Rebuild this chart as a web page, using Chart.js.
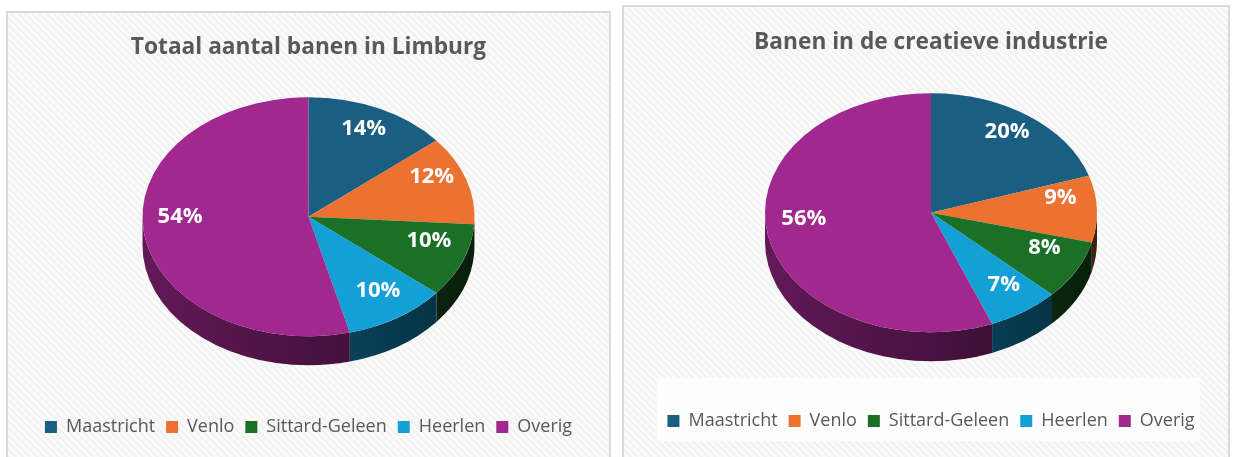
<!DOCTYPE html>
<html lang="nl">

<head>
    <meta charset="UTF-8">
    <title>Banen in Limburg</title>
    <script src="https://cdn.jsdelivr.net/npm/chart.js"></script>
    <style>
        body {
            margin: 0;
            background: #fff;
            width: 1233px;
            height: 457px;
            overflow: hidden;
            position: relative;
            font-family: "Open Sans", sans-serif;
        }

        .panel {
            position: absolute;
            box-sizing: border-box;
            border: 2px solid #dadada;
            background: repeating-linear-gradient(45deg, #f3f3f3 0px, #f3f3f3 2.5px, #fbfbfb 2.5px, #fbfbfb 5px);
        }

        #panel1 { left: 6px; top: 11px; width: 605px; height: 470px; }
        #panel2 { left: 622px; top: 5px; width: 608px; height: 470px; }

        #legendBox {
            position: absolute;
            left: 657px; top: 378px; width: 543px; height: 63px;
            background: #fdfdfd;
        }

        .chartBox { position: absolute; }
        #box1 { left: 8px; top: 13px; width: 601px; height: 444px; }
        #box2 { left: 629px; top: 7px; width: 604px; height: 450px; }
    </style>
</head>

<body>
    <div class="panel" id="panel1"></div>
    <div class="panel" id="panel2"></div>
    <div id="legendBox"></div>
    <div class="chartBox" id="box1"><canvas id="chart1"></canvas></div>
    <div class="chartBox" id="box2"><canvas id="chart2"></canvas></div>

    <script>
        // data
        const categories = ["Maastricht", "Venlo", "Sittard-Geleen", "Heerlen", "Overig"];
        const totaalBanen = [14, 12, 10, 10, 54];
        const creatieveBanen = [20, 9, 8, 7, 56];
        const sliceColors = ["#1a5e82", "#ec7231", "#1b6f27", "#13a0d7", "#a0288f"];

        const TILT = 0.72;   // vertical squash of the pie
        const DEPTH = 29;    // thickness of the pie side in px

        function shade(hex, f) {
            const n = parseInt(hex.slice(1), 16);
            const r = Math.round(((n >> 16) & 255) * f);
            const g = Math.round(((n >> 8) & 255) * f);
            const b = Math.round((n & 255) * f);
            return `rgb(${r},${g},${b})`;
        }

        // draws the pie flattened with a side, then the percentage labels
        const pie3d = {
            id: "pie3d",
            beforeDatasetsDraw(chart) {
                const meta = chart.getDatasetMeta(0);
                const first = meta.data[0];
                const cx = first.x, cy = first.y, r = first.outerRadius;
                const yE = chart.chartArea.top + 2 + r * TILT;
                chart.$pieCenter = { cx, yE, r };
                const ctx = chart.ctx;
                ctx.save();
                ctx.translate(0, yE);
                ctx.scale(1, TILT);
                ctx.translate(0, -cy);

                meta.data.forEach((arc, i) => {
                    const a = Math.max(arc.startAngle, 0);
                    const b = Math.min(arc.endAngle, Math.PI);
                    if (a >= b) return;
                    const base = chart.data.datasets[0].backgroundColor[i];
                    const grad = ctx.createLinearGradient(cx - r, 0, cx + r, 0);
                    grad.addColorStop(0, shade(base, 0.62));
                    grad.addColorStop(0.5, shade(base, 0.45));
                    grad.addColorStop(1, shade(base, 0.28));
                    ctx.beginPath();
                    ctx.arc(cx, cy, r, a, b);
                    ctx.arc(cx, cy + DEPTH / TILT, r, b, a, true);
                    ctx.closePath();
                    ctx.fillStyle = grad;
                    ctx.fill();
                });
            },
            afterDatasetsDraw(chart) {
                const ctx = chart.ctx;
                ctx.restore();
                const { cx, yE, r } = chart.$pieCenter;
                const meta = chart.getDatasetMeta(0);
                const values = chart.data.datasets[0].data;
                const total = values.reduce((s, v) => s + v, 0);
                ctx.save();
                ctx.font = 'bold 22px "Open Sans"';
                ctx.fillStyle = "#ffffff";
                ctx.textAlign = "center";
                ctx.textBaseline = "middle";
                meta.data.forEach((arc, i) => {
                    const mid = (arc.startAngle + arc.endAngle) / 2;
                    const lr = r * 0.78;
                    const c = Math.cos(mid), s = Math.sin(mid);
                    const x = cx + c * lr;
                    const y = yE + s * lr * TILT - 10 * c * c - 2;
                    ctx.fillText(Math.round(values[i] / total * 100) + "%", x, y);
                });
                ctx.restore();
            }
        };

        function makePie(id, title, values, titleTop, titleBottom, bottomPad) {
            new Chart(document.getElementById(id), {
                type: "pie",
                data: {
                    labels: categories,
                    datasets: [{
                        data: values,
                        backgroundColor: sliceColors,
                        borderWidth: 0,
                        radius: 166
                    }]
                },
                options: {
                    responsive: true,
                    maintainAspectRatio: false,
                    animation: false,
                    events: [],
                    layout: { padding: { bottom: bottomPad } },
                    plugins: {
                        title: {
                            display: true,
                            text: title,
                            color: "#595959",
                            font: { family: "Open Sans", size: 22.7, weight: "bold" },
                            padding: { top: titleTop, bottom: titleBottom }
                        },
                        legend: {
                            position: "bottom",
                            labels: {
                                boxWidth: 12,
                                boxHeight: 12,
                                padding: 11,
                                color: "#595959",
                                font: { family: "Open Sans", size: 18 }
                            }
                        },
                        tooltip: { enabled: false }
                    }
                },
                plugins: [pie3d]
            });
        }

        makePie("chart1", "Totaal aantal banen in Limburg", totaalBanen, 21, 34, 11);
        makePie("chart2", "Banen in de creatieve industrie", creatieveBanen, 22, 35, 17);
    </script>
</body>

</html>
